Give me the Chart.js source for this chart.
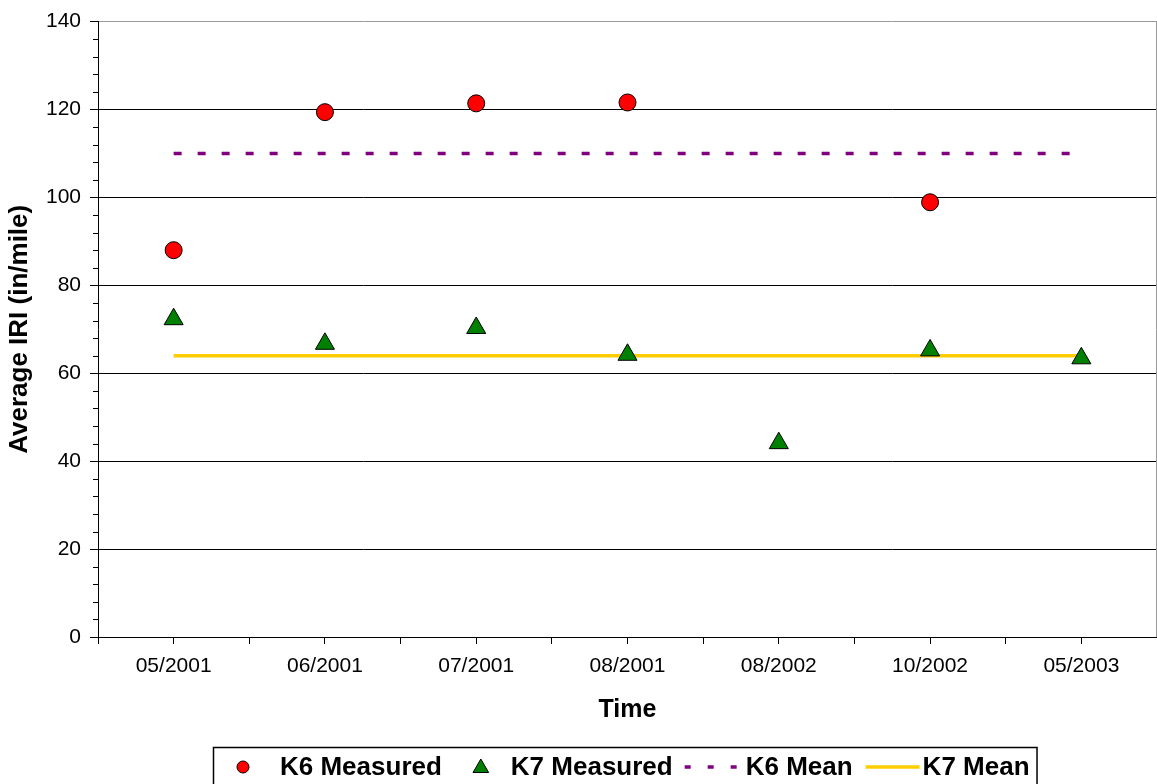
<!DOCTYPE html>
<html>
<head>
<meta charset="utf-8">
<script src="https://cdn.jsdelivr.net/npm/chart.js@4.4.0/dist/chart.umd.min.js"></script>
<style>
html,body{margin:0;padding:0;background:#fff;}
#wrap{width:1157px;height:784px;position:relative;}
</style>
</head>
<body>
<div id="wrap"><canvas id="c" width="1157" height="784"></canvas></div>
<script>
// ---- data ----
const categories = ['05/2001','06/2001','07/2001','08/2001','08/2002','10/2002','05/2003'];
const k6Measured = [88.0, 119.4, 121.4, 121.6, null, 98.9, null];
const k7Measured = [72.3, 66.7, 70.3, 64.2, 44.1, 65.2, 63.4];
const k6Mean = 110;
const k7Mean = 64;
const yTicks = [0, 20, 40, 60, 80, 100, 120, 140];
const yMinorStep = 4;
const seriesNames = ['K6 Measured', 'K7 Measured', 'K6 Mean', 'K7 Mean'];
const axisTitles = { x: 'Time', y: 'Average IRI (in/mile)' };

const FAMILY = "'Liberation Sans', Arial, Helvetica, sans-serif";

const toPoints = arr => arr.map((v, i) => ({ x: i, y: v }));
const meanPoints = v => [{ x: 0, y: v }, { x: categories.length - 1, y: v }];

// minor y ticks + right frame
const decorPlugin = {
  id: 'decor',
  afterDraw(chart) {
    const ctx = chart.ctx;
    const ys = chart.scales.y;
    const a = chart.chartArea;
    ctx.save();
    ctx.strokeStyle = '#000';
    ctx.lineWidth = 1;
    const yMin = yTicks[0], yMax = yTicks[yTicks.length - 1];
    for (let v = yMin; v <= yMax; v += yMinorStep) {
      if (yTicks.includes(v)) continue;
      const py = Math.round(ys.getPixelForValue(v)) + 0.5;
      ctx.beginPath();
      ctx.moveTo(a.left - 5, py);
      ctx.lineTo(a.left, py);
      ctx.stroke();
    }
    ctx.strokeStyle = '#9a9a9a';
    ctx.beginPath();
    ctx.moveTo(a.right - 0.5, a.top);
    ctx.lineTo(a.right - 0.5, a.bottom);
    ctx.stroke();
    ctx.restore();
  }
};

// boxed legend at the bottom
const legendPlugin = {
  id: 'boxLegend',
  afterDraw(chart) {
    const ctx = chart.ctx;
    const ds = chart.data.datasets;
    const a = chart.chartArea;
    ctx.save();
    ctx.font = 'bold 26px ' + FAMILY;
    const spec = [
      { kind: 'point', lead: 19, mw: 22, gap: 26, after: 28 },
      { kind: 'point', lead: 0, mw: 22, gap: 19, after: 12 },
      { kind: 'line', lead: 0, mw: 52, gap: 9, after: 13 },
      { kind: 'line', lead: 0, mw: 54, gap: 3, after: 7 }
    ];
    const widths = ds.map(d => ctx.measureText(d.label).width);
    let total = 0;
    spec.forEach((s, i) => { total += s.lead + s.mw + s.gap + widths[i] + s.after; });
    const left = Math.round((a.left + a.right) / 2 - total / 2) - 3;
    const top = chart.height - 37;
    const cy = top + 20;
    const base = top + 28;
    ctx.strokeStyle = '#000';
    ctx.lineWidth = 1.5;
    ctx.strokeRect(left + 0.5, top + 0.5, total, chart.height);
    let x = left;
    spec.forEach((s, i) => {
      const d = ds[i];
      x += s.lead;
      if (s.kind === 'point') {
        ctx.fillStyle = d.backgroundColor;
        ctx.strokeStyle = d.borderColor;
        ctx.lineWidth = 1;
        ctx.setLineDash([]);
        Chart.helpers.drawPoint(ctx, {
          pointStyle: d.pointStyle,
          radius: d.pointStyle === 'triangle' ? 9 : 6,
          borderWidth: 1
        }, x + s.mw / 2, d.pointStyle === 'triangle' ? cy + 1 : cy);
      } else {
        ctx.strokeStyle = d.borderColor;
        ctx.lineWidth = d.borderWidth;
        ctx.setLineDash(d.borderDash && d.borderDash.length ? [6, 17] : []);
        ctx.beginPath();
        ctx.moveTo(x, cy);
        ctx.lineTo(x + s.mw, cy);
        ctx.stroke();
        ctx.setLineDash([]);
      }
      x += s.mw + s.gap;
      ctx.fillStyle = '#000';
      ctx.textBaseline = 'alphabetic';
      ctx.textAlign = 'left';
      ctx.fillText(d.label, x, base);
      x += widths[i] + s.after;
    });
    ctx.restore();
  }
};

new Chart(document.getElementById('c'), {
  type: 'line',
  data: {
    datasets: [
      {
        label: seriesNames[0],
        data: toPoints(k6Measured),
        showLine: false,
        pointStyle: 'circle',
        pointRadius: 8.5,
        pointHoverRadius: 8.5,
        backgroundColor: '#ff0000',
        borderColor: '#000000',
        pointBorderWidth: 1
      },
      {
        label: seriesNames[1],
        data: toPoints(k7Measured),
        showLine: false,
        pointStyle: 'triangle',
        pointRadius: 11,
        pointHoverRadius: 11,
        backgroundColor: '#008000',
        borderColor: '#000000',
        pointBorderWidth: 1
      },
      {
        label: seriesNames[2],
        data: meanPoints(k6Mean),
        borderColor: '#800080',
        borderWidth: 3.5,
        borderDash: [8, 16],
        pointRadius: 0,
        fill: false
      },
      {
        label: seriesNames[3],
        data: meanPoints(k7Mean),
        borderColor: '#ffcc00',
        borderWidth: 3.5,
        pointRadius: 0,
        fill: false
      }
    ]
  },
  options: {
    responsive: false,
    animation: false,
    devicePixelRatio: 1,
    layout: { autoPadding: false, padding: { top: 20, right: 0, bottom: 47, left: 0 } },
    plugins: {
      legend: { display: false },
      tooltip: { enabled: false }
    },
    scales: {
      x: {
        type: 'linear',
        min: -0.5,
        max: categories.length - 0.5,
        afterFit: s => { s.height = 100; s.paddingLeft = 0; s.paddingRight = 0; },
        ticks: {
          stepSize: 0.5,
          autoSkip: false,
          maxRotation: 0,
          minRotation: 0,
          padding: 10,
          color: '#000',
          font: { family: FAMILY, size: 21 },
          callback: v => Number.isInteger(v) ? categories[v] : ''
        },
        grid: {
          drawOnChartArea: false,
          drawTicks: true,
          tickLength: 7,
          tickColor: '#000',
          lineWidth: 1
        },
        border: { color: '#000', width: 1 },
        title: {
          display: true,
          text: axisTitles.x,
          color: '#000',
          font: { family: FAMILY, size: 25, weight: 'bold' },
          padding: { top: 0, bottom: 12 }
        }
      },
      y: {
        type: 'linear',
        min: yTicks[0],
        max: yTicks[yTicks.length - 1],
        afterFit: s => { s.width = 98; },
        ticks: {
          stepSize: yTicks[1] - yTicks[0],
          padding: 9,
          color: '#000',
          font: { family: FAMILY, size: 21 }
        },
        grid: {
          color: c => (c.tick && c.tick.value === yTicks[yTicks.length - 1]) ? '#9a9a9a' : '#000',
          lineWidth: 1,
          tickLength: 8,
          tickColor: '#000'
        },
        border: { color: '#000', width: 1 },
        title: {
          display: true,
          text: axisTitles.y,
          color: '#000',
          font: { family: FAMILY, size: 26, weight: 'bold' },
          padding: { top: 4, bottom: 0 }
        }
      }
    }
  },
  plugins: [decorPlugin, legendPlugin]
});
</script>
</body>
</html>
